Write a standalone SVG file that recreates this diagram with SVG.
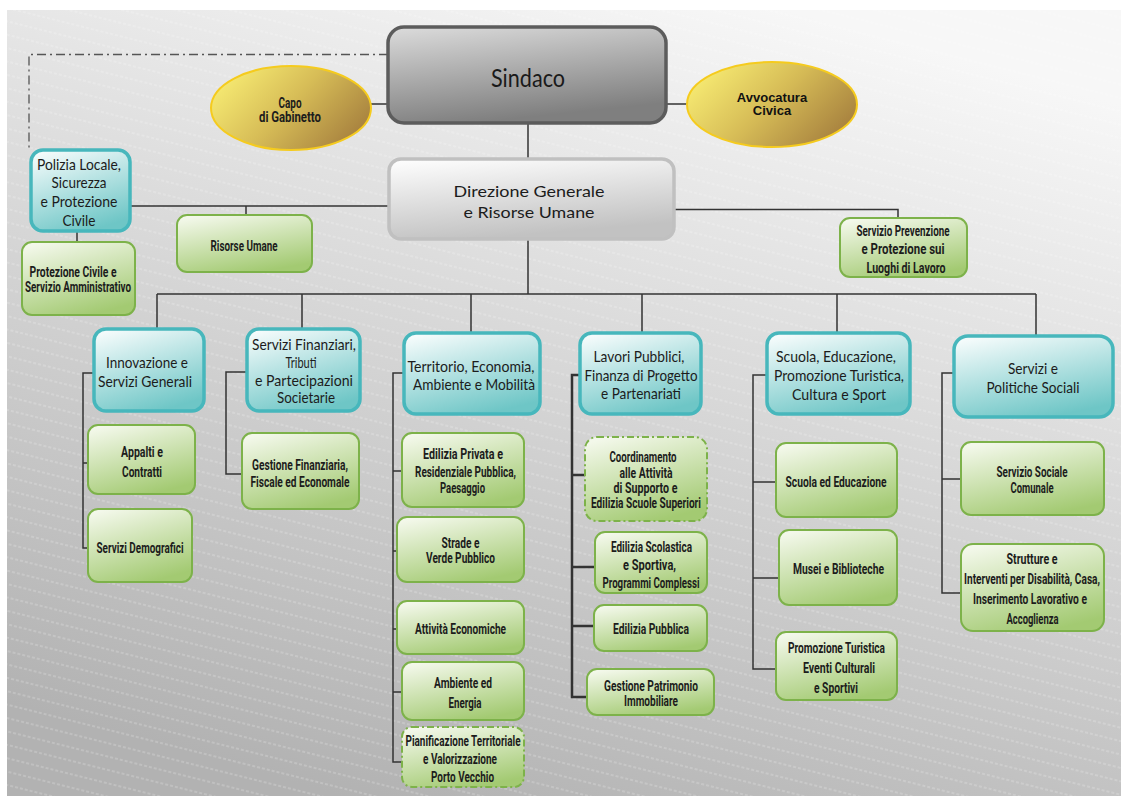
<svg xmlns="http://www.w3.org/2000/svg" width="1121" height="796" viewBox="0 0 1121 796">
<defs>
<linearGradient id="bg" x1="0.7" y1="0" x2="0.3" y2="1">
<stop offset="0" stop-color="#f7f7f7"/>
<stop offset="0.45" stop-color="#d8d8d8"/>
<stop offset="1" stop-color="#b2b2b2"/>
</linearGradient>
<pattern id="stripes" patternUnits="userSpaceOnUse" width="240" height="13" patternTransform="rotate(14)">
<line x1="0" y1="6" x2="240" y2="6" stroke="#ffffff" stroke-width="0.8" stroke-dasharray="3,2" opacity="0.45"/>
</pattern>
<linearGradient id="gTeal" x1="0.2" y1="0" x2="0.6" y2="1">
<stop offset="0" stop-color="#f4fbfb"/>
<stop offset="1" stop-color="#6ec6c6"/>
</linearGradient>
<linearGradient id="gGreen" x1="0.2" y1="0" x2="0.6" y2="1">
<stop offset="0" stop-color="#f3f8ea"/>
<stop offset="1" stop-color="#a3ca72"/>
</linearGradient>
<linearGradient id="gSind" x1="0" y1="0" x2="0.3" y2="1">
<stop offset="0" stop-color="#dcdcdc"/>
<stop offset="1" stop-color="#7f7f7f"/>
</linearGradient>
<linearGradient id="gDir" x1="0" y1="0" x2="0.3" y2="1">
<stop offset="0" stop-color="#ffffff"/>
<stop offset="1" stop-color="#c2c2c2"/>
</linearGradient>
<linearGradient id="gGold" x1="0" y1="0.3" x2="1" y2="0.8">
<stop offset="0" stop-color="#f6ea72"/>
<stop offset="0.45" stop-color="#d7bd57"/>
<stop offset="1" stop-color="#a27b3c"/>
</linearGradient>
</defs>
<style>
.teal{fill:url(#gTeal);stroke:#47b7bc;stroke-width:3.5}
.green{fill:url(#gGreen);stroke:#7db24a;stroke-width:2}
.dashed{stroke-dasharray:7,3,2,3}
.gold{fill:url(#gGold);stroke:#f5cb1e;stroke-width:2}
.tl{font-family:Lato,"Open Sans","Liberation Sans",sans-serif;font-size:15px;fill:#1c1c1c;text-anchor:middle}
.gl{font-family:Roboto,"Liberation Sans",sans-serif;font-weight:700;font-size:14px;fill:#1c1c1c;text-anchor:middle}
.al{font-family:"Liberation Sans",Arial,sans-serif;font-weight:bold;font-size:13px;fill:#111;text-anchor:middle}
.ln{fill:none;stroke:#333;stroke-width:1.5}
.thick{stroke-width:2.5}
.dd{fill:none;stroke:#555;stroke-width:1.3;stroke-dasharray:9,4,2,4}
</style>
<rect x="7" y="10" width="1114" height="786" fill="url(#bg)"/>
<rect x="7" y="10" width="1114" height="786" fill="url(#stripes)"/>

<g id="connectors">
<path class="dd" d="M388 54.5 H29 V150"/>
<path class="ln" d="M371 104 H388"/>
<path class="ln" d="M666 104 H687"/>
<path class="ln" d="M528 123 V159"/>
<path class="ln" d="M528 239 V294"/>
<path class="ln" d="M130 206 H389"/>
<path class="ln" d="M246 206 V215"/>
<path class="ln" d="M674 209.5 H898 V218"/>
<path class="ln" d="M77 231 V242"/>
<path class="ln" d="M157 294 H1036"/>
<path class="ln" d="M157 294 V329 M302 294 V329 M471 294 V333 M642 294 V333 M837 294 V333 M1036 294 V336"/>
<path class="ln" d="M94 373 H83 V548 H88 M83 463 H88"/>
<path class="ln" d="M247 372 H226 V474 H242"/>
<path class="ln" d="M404 373 H393 V762 H402 M393 471 H402 M393 551 H397 M393 629 H397 M393 692 H402"/>
<path class="ln thick" d="M580 375 H572 V697 H587 M572 475 H585 M572 567 H595 M572 626 H594"/>
<path class="ln" d="M767 375 H753 V669 H776 M753 482 H776 M753 578 H779"/>
<path class="ln" d="M954 373 H942 V593 H961 M942 479 H961"/>
</g>

<g id="sindaco">
<rect x="388" y="27" width="278" height="96" rx="16" fill="url(#gSind)" stroke="#5c5c5c" stroke-width="3.5"/>
<text x="528" y="87" font-family="Lato,'Open Sans',sans-serif" font-size="25" fill="#1a1a1a" text-anchor="middle" textLength="74" lengthAdjust="spacingAndGlyphs">Sindaco</text>
</g>
<g id="capo-gabinetto">
<ellipse class="gold" cx="291" cy="108" rx="80" ry="42"/>
<text class="gl" x="290" y="108" font-size="13" textLength="23" lengthAdjust="spacingAndGlyphs">Capo</text>
<text class="gl" x="290" y="122" font-size="13" textLength="62" lengthAdjust="spacingAndGlyphs">di Gabinetto</text>
</g>
<g id="avvocatura">
<ellipse class="gold" cx="772" cy="104.5" rx="85" ry="42.5"/>
<text class="al" x="772" y="101.5">Avvocatura</text>
<text class="al" x="772" y="114.5">Civica</text>
</g>
<g id="direzione">
<rect x="389" y="159" width="285" height="80" rx="12" fill="url(#gDir)" stroke="#c0c0c0" stroke-width="3.5"/>
<text class="tl" x="529" y="197" font-size="18" textLength="151" lengthAdjust="spacingAndGlyphs">Direzione Generale</text>
<text class="tl" x="529" y="218" font-size="18" textLength="131" lengthAdjust="spacingAndGlyphs">e Risorse Umane</text>
</g>
<g id="polizia">
<rect class="teal" x="31" y="150" width="99" height="81" rx="12"/>
<text class="tl" x="79" y="170" textLength="84" lengthAdjust="spacingAndGlyphs">Polizia Locale,</text>
<text class="tl" x="79" y="188" textLength="55" lengthAdjust="spacingAndGlyphs">Sicurezza</text>
<text class="tl" x="79" y="207" textLength="77" lengthAdjust="spacingAndGlyphs">e Protezione</text>
<text class="tl" x="79" y="226" textLength="33" lengthAdjust="spacingAndGlyphs">Civile</text>
</g>
<g id="protezione-civile">
<rect class="green" x="22" y="242" width="113" height="73" rx="10"/>
<text class="gl" x="73" y="277" textLength="87" lengthAdjust="spacingAndGlyphs">Protezione Civile e</text>
<text class="gl" x="78" y="292" textLength="106" lengthAdjust="spacingAndGlyphs">Servizio Amministrativo</text>
</g>
<g id="risorse-umane">
<rect class="green" x="177" y="215" width="135" height="57" rx="10"/>
<text class="gl" x="244" y="251" textLength="67" lengthAdjust="spacingAndGlyphs">Risorse Umane</text>
</g>
<g id="servizio-prevenzione">
<rect class="green" x="840" y="218" width="127" height="59" rx="10"/>
<text class="gl" x="903" y="236" textLength="93" lengthAdjust="spacingAndGlyphs">Servizio Prevenzione</text>
<text class="gl" x="903" y="254" textLength="83" lengthAdjust="spacingAndGlyphs">e  Protezione sui</text>
<text class="gl" x="906" y="273" textLength="79" lengthAdjust="spacingAndGlyphs">Luoghi di Lavoro</text>
</g>

<g id="innovazione">
<rect class="teal" x="94" y="329" width="110" height="82" rx="12"/>
<text class="tl" x="147" y="368" textLength="82" lengthAdjust="spacingAndGlyphs">Innovazione e</text>
<text class="tl" x="145" y="387" textLength="94" lengthAdjust="spacingAndGlyphs">Servizi Generali</text>
</g>
<g id="appalti">
<rect class="green" x="88" y="425" width="107" height="69" rx="10"/>
<text class="gl" x="142" y="457" textLength="42" lengthAdjust="spacingAndGlyphs">Appalti e</text>
<text class="gl" x="142" y="477" textLength="40" lengthAdjust="spacingAndGlyphs">Contratti</text>
</g>
<g id="servizi-demografici">
<rect class="green" x="88" y="509" width="104" height="73" rx="10"/>
<text class="gl" x="140" y="553" textLength="87" lengthAdjust="spacingAndGlyphs">Servizi Demografici</text>
</g>

<g id="servizi-finanziari">
<rect class="teal" x="247" y="329" width="113" height="82" rx="12"/>
<text class="tl" x="304" y="350" textLength="104" lengthAdjust="spacingAndGlyphs">Servizi Finanziari,</text>
<text class="tl" x="301" y="368" textLength="31" lengthAdjust="spacingAndGlyphs">Tributi</text>
<text class="tl" x="304" y="386" textLength="98" lengthAdjust="spacingAndGlyphs">e  Partecipazioni</text>
<text class="tl" x="306" y="403" textLength="58" lengthAdjust="spacingAndGlyphs">Societarie</text>
</g>
<g id="gestione-finanziaria">
<rect class="green" x="242" y="433" width="117" height="76" rx="10"/>
<text class="gl" x="300" y="470" textLength="96" lengthAdjust="spacingAndGlyphs">Gestione Finanziaria,</text>
<text class="gl" x="300" y="487" textLength="99" lengthAdjust="spacingAndGlyphs">Fiscale ed Economale</text>
</g>

<g id="territorio">
<rect class="teal" x="404" y="333" width="136" height="81" rx="12"/>
<text class="tl" x="471" y="372" textLength="127" lengthAdjust="spacingAndGlyphs">Territorio, Economia,</text>
<text class="tl" x="474" y="390" textLength="122" lengthAdjust="spacingAndGlyphs">Ambiente e Mobilità</text>
</g>
<g id="edilizia-privata">
<rect class="green" x="402" y="433" width="122" height="74" rx="10"/>
<text class="gl" x="463" y="459" textLength="80" lengthAdjust="spacingAndGlyphs">Edilizia Privata e</text>
<text class="gl" x="465.5" y="477" textLength="101" lengthAdjust="spacingAndGlyphs">Residenziale Pubblica,</text>
<text class="gl" x="462.5" y="493" textLength="45" lengthAdjust="spacingAndGlyphs">Paesaggio</text>
</g>
<g id="strade">
<rect class="green" x="397" y="517" width="127" height="65" rx="10"/>
<text class="gl" x="460.5" y="548" textLength="38" lengthAdjust="spacingAndGlyphs">Strade e</text>
<text class="gl" x="460.5" y="563" textLength="69" lengthAdjust="spacingAndGlyphs">Verde Pubblico</text>
</g>
<g id="attivita-economiche">
<rect class="green" x="397" y="601" width="127" height="53" rx="10"/>
<text class="gl" x="460.5" y="634" textLength="91" lengthAdjust="spacingAndGlyphs">Attività Economiche</text>
</g>
<g id="ambiente-energia">
<rect class="green" x="402" y="662" width="122" height="58" rx="10"/>
<text class="gl" x="463" y="688" textLength="58" lengthAdjust="spacingAndGlyphs">Ambiente ed</text>
<text class="gl" x="465" y="708" textLength="33" lengthAdjust="spacingAndGlyphs">Energia</text>
</g>
<g id="pianificazione">
<rect class="green dashed" x="402" y="727" width="122" height="60" rx="10"/>
<text class="gl" x="463" y="746" textLength="115" lengthAdjust="spacingAndGlyphs">Pianificazione Territoriale</text>
<text class="gl" x="460" y="764" textLength="74" lengthAdjust="spacingAndGlyphs">e Valorizzazione</text>
<text class="gl" x="462.5" y="782" textLength="63" lengthAdjust="spacingAndGlyphs">Porto Vecchio</text>
</g>

<g id="lavori-pubblici">
<rect class="teal" x="580" y="333" width="121" height="81" rx="12"/>
<text class="tl" x="639" y="362" textLength="91" lengthAdjust="spacingAndGlyphs">Lavori Pubblici,</text>
<text class="tl" x="641" y="381" textLength="113" lengthAdjust="spacingAndGlyphs">Finanza di Progetto</text>
<text class="tl" x="641" y="399" textLength="80" lengthAdjust="spacingAndGlyphs">e Partenariati</text>
</g>
<g id="coordinamento">
<rect class="green dashed" x="585" y="437" width="122" height="84" rx="12"/>
<text class="gl" x="643" y="462" textLength="67" lengthAdjust="spacingAndGlyphs">Coordinamento</text>
<text class="gl" x="646" y="478" textLength="53" lengthAdjust="spacingAndGlyphs">alle Attività</text>
<text class="gl" x="645.5" y="493" textLength="64" lengthAdjust="spacingAndGlyphs">di Supporto e</text>
<text class="gl" x="646" y="508" textLength="110" lengthAdjust="spacingAndGlyphs">Edilizia Scuole Superiori</text>
</g>
<g id="edilizia-scolastica">
<rect class="green" x="595" y="532" width="112" height="61" rx="10"/>
<text class="gl" x="651.5" y="552" textLength="81" lengthAdjust="spacingAndGlyphs">Edilizia Scolastica</text>
<text class="gl" x="649.5" y="570" textLength="53" lengthAdjust="spacingAndGlyphs">e Sportiva,</text>
<text class="gl" x="651" y="588" textLength="97" lengthAdjust="spacingAndGlyphs">Programmi Complessi</text>
</g>
<g id="edilizia-pubblica">
<rect class="green" x="594" y="605" width="113" height="46" rx="10"/>
<text class="gl" x="651" y="634" textLength="76" lengthAdjust="spacingAndGlyphs">Edilizia Pubblica</text>
</g>
<g id="gestione-patrimonio">
<rect class="green" x="587" y="669" width="127" height="46" rx="10"/>
<text class="gl" x="651" y="691" textLength="94" lengthAdjust="spacingAndGlyphs">Gestione Patrimonio</text>
<text class="gl" x="651" y="706" textLength="54" lengthAdjust="spacingAndGlyphs">Immobiliare</text>
</g>

<g id="scuola">
<rect class="teal" x="767" y="333" width="143" height="81" rx="12"/>
<text class="tl" x="836" y="362" textLength="120" lengthAdjust="spacingAndGlyphs">Scuola,  Educazione,</text>
<text class="tl" x="839" y="381" textLength="130" lengthAdjust="spacingAndGlyphs">Promozione Turistica,</text>
<text class="tl" x="839" y="400" textLength="94" lengthAdjust="spacingAndGlyphs">Cultura e Sport</text>
</g>
<g id="scuola-educazione">
<rect class="green" x="776" y="443" width="121" height="74" rx="10"/>
<text class="gl" x="836" y="487" textLength="101" lengthAdjust="spacingAndGlyphs">Scuola ed Educazione</text>
</g>
<g id="musei">
<rect class="green" x="779" y="530" width="118" height="75" rx="10"/>
<text class="gl" x="838.5" y="574" textLength="91" lengthAdjust="spacingAndGlyphs">Musei e Biblioteche</text>
</g>
<g id="promozione-turistica">
<rect class="green" x="776" y="632" width="121" height="68" rx="10"/>
<text class="gl" x="836.5" y="653" textLength="97" lengthAdjust="spacingAndGlyphs">Promozione Turistica</text>
<text class="gl" x="839" y="673" textLength="72" lengthAdjust="spacingAndGlyphs">Eventi Culturali</text>
<text class="gl" x="836" y="693" textLength="44" lengthAdjust="spacingAndGlyphs">e Sportivi</text>
</g>

<g id="servizi-sociali">
<rect class="teal" x="954" y="336" width="159" height="81" rx="14"/>
<text class="tl" x="1033" y="374" textLength="50" lengthAdjust="spacingAndGlyphs">Servizi e</text>
<text class="tl" x="1033" y="393" textLength="93" lengthAdjust="spacingAndGlyphs">Politiche Sociali</text>
</g>
<g id="servizio-sociale-comunale">
<rect class="green" x="961" y="442" width="143" height="73" rx="10"/>
<text class="gl" x="1032" y="477" textLength="71" lengthAdjust="spacingAndGlyphs">Servizio Sociale</text>
<text class="gl" x="1032" y="493" textLength="43" lengthAdjust="spacingAndGlyphs">Comunale</text>
</g>
<g id="strutture">
<rect class="green" x="961" y="544" width="143" height="87" rx="12"/>
<text class="gl" x="1032" y="564" textLength="51" lengthAdjust="spacingAndGlyphs">Strutture e</text>
<text class="gl" x="1032" y="584" textLength="136" lengthAdjust="spacingAndGlyphs">Interventi per Disabilità, Casa,</text>
<text class="gl" x="1030" y="604" textLength="114" lengthAdjust="spacingAndGlyphs">Inserimento Lavorativo e</text>
<text class="gl" x="1032.5" y="624" textLength="52" lengthAdjust="spacingAndGlyphs">Accoglienza</text>
</g>
</svg>
